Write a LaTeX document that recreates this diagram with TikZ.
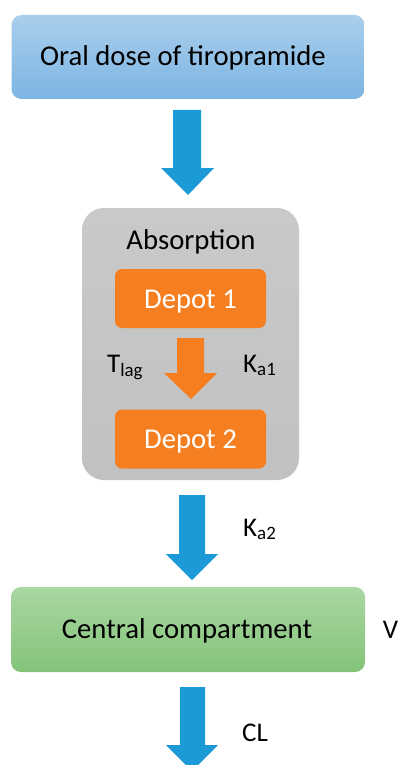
\documentclass[tikz,border=0pt]{standalone}
\usepackage{fontspec}
\setmainfont{Carlito}
\definecolor{bluetop}{HTML}{A9CEEC}
\definecolor{bluebot}{HTML}{7DB5E2}
\definecolor{arrowblue}{HTML}{1B9AD7}
\definecolor{graybox}{HTML}{C9C9C9}
\definecolor{graybot}{HTML}{C1C1C1}
\definecolor{orangebox}{HTML}{F57F20}
\definecolor{greentop}{HTML}{A9D7A2}
\definecolor{greenbot}{HTML}{84C479}
\begin{document}
\begin{tikzpicture}[x=1pt,y=-1pt,
  lbl/.style={font=\fontsize{27}{32}\selectfont, inner sep=0pt},
  boxtxt/.style={inner sep=0pt, anchor=base, font=\fontsize{28.7}{34}\selectfont},
  bigbox/.style={rounded corners=10pt, minimum width=353pt, minimum height=84pt, inner sep=0pt},
  depot/.style={fill=orangebox, rounded corners=7pt, minimum width=151pt, minimum height=59pt, inner sep=0pt},
  fatarrow/.style={fill=arrowblue, draw=none}
]
\useasboundingbox (0,0) rectangle (399,765);

\node[bigbox, top color=bluetop, bottom color=bluebot] (dose) at (188,57) {};
\node[boxtxt] (dosetxt) at (183,66) {Oral dose of tiropramide};

\node[rounded corners=22pt, top color=graybox, bottom color=graybot, minimum width=217pt, minimum height=272pt, inner sep=0pt] (absorp) at (190.5,344) {};
\node[boxtxt] (abstxt) at (191,249) {Absorption};

\node[depot] (d1) at (190.5,298.5) {};
\node[boxtxt, text=white] (d1txt) at (190.5,308) {Depot 1};
\node[depot] (d2) at (190.5,439) {};
\node[boxtxt, text=white] (d2txt) at (190.5,448) {Depot 2};

\node[bigbox, minimum width=354pt, minimum height=85pt, top color=greentop, bottom color=greenbot] (central) at (188,629.5) {};
\node[boxtxt] (centtxt) at (187,638) {Central compartment};

% arrows
\fill[fatarrow] (173,110) -- (201,110) -- (201,168) -- (214,168) -- (188,195) -- (161,168) -- (173,168) -- cycle;
\fill[orangebox] (177,338) -- (204,338) -- (204,373) -- (217,373) -- (191,399) -- (164,373) -- (177,373) -- cycle;
\fill[fatarrow] (179,495) -- (205,495) -- (205,554) -- (218,554) -- (192,580) -- (166,554) -- (179,554) -- cycle;
\fill[fatarrow] (180,687) -- (205,687) -- (205,745) -- (218,745) -- (192,771) -- (166,745) -- (180,745) -- cycle;

% labels
\node[lbl, anchor=base west] (tlag) at (107,372) {T\textsubscript{lag}};
\node[lbl, anchor=base west] (ka1) at (243,372) {K\textsubscript{a1}};
\node[lbl, anchor=base west] (ka2) at (243,536) {K\textsubscript{a2}};
\node[lbl, anchor=base east] (vlab) at (398.5,638) {V};
\node[lbl, anchor=base west] (cl) at (242,741) {CL};
\end{tikzpicture}
\end{document}
